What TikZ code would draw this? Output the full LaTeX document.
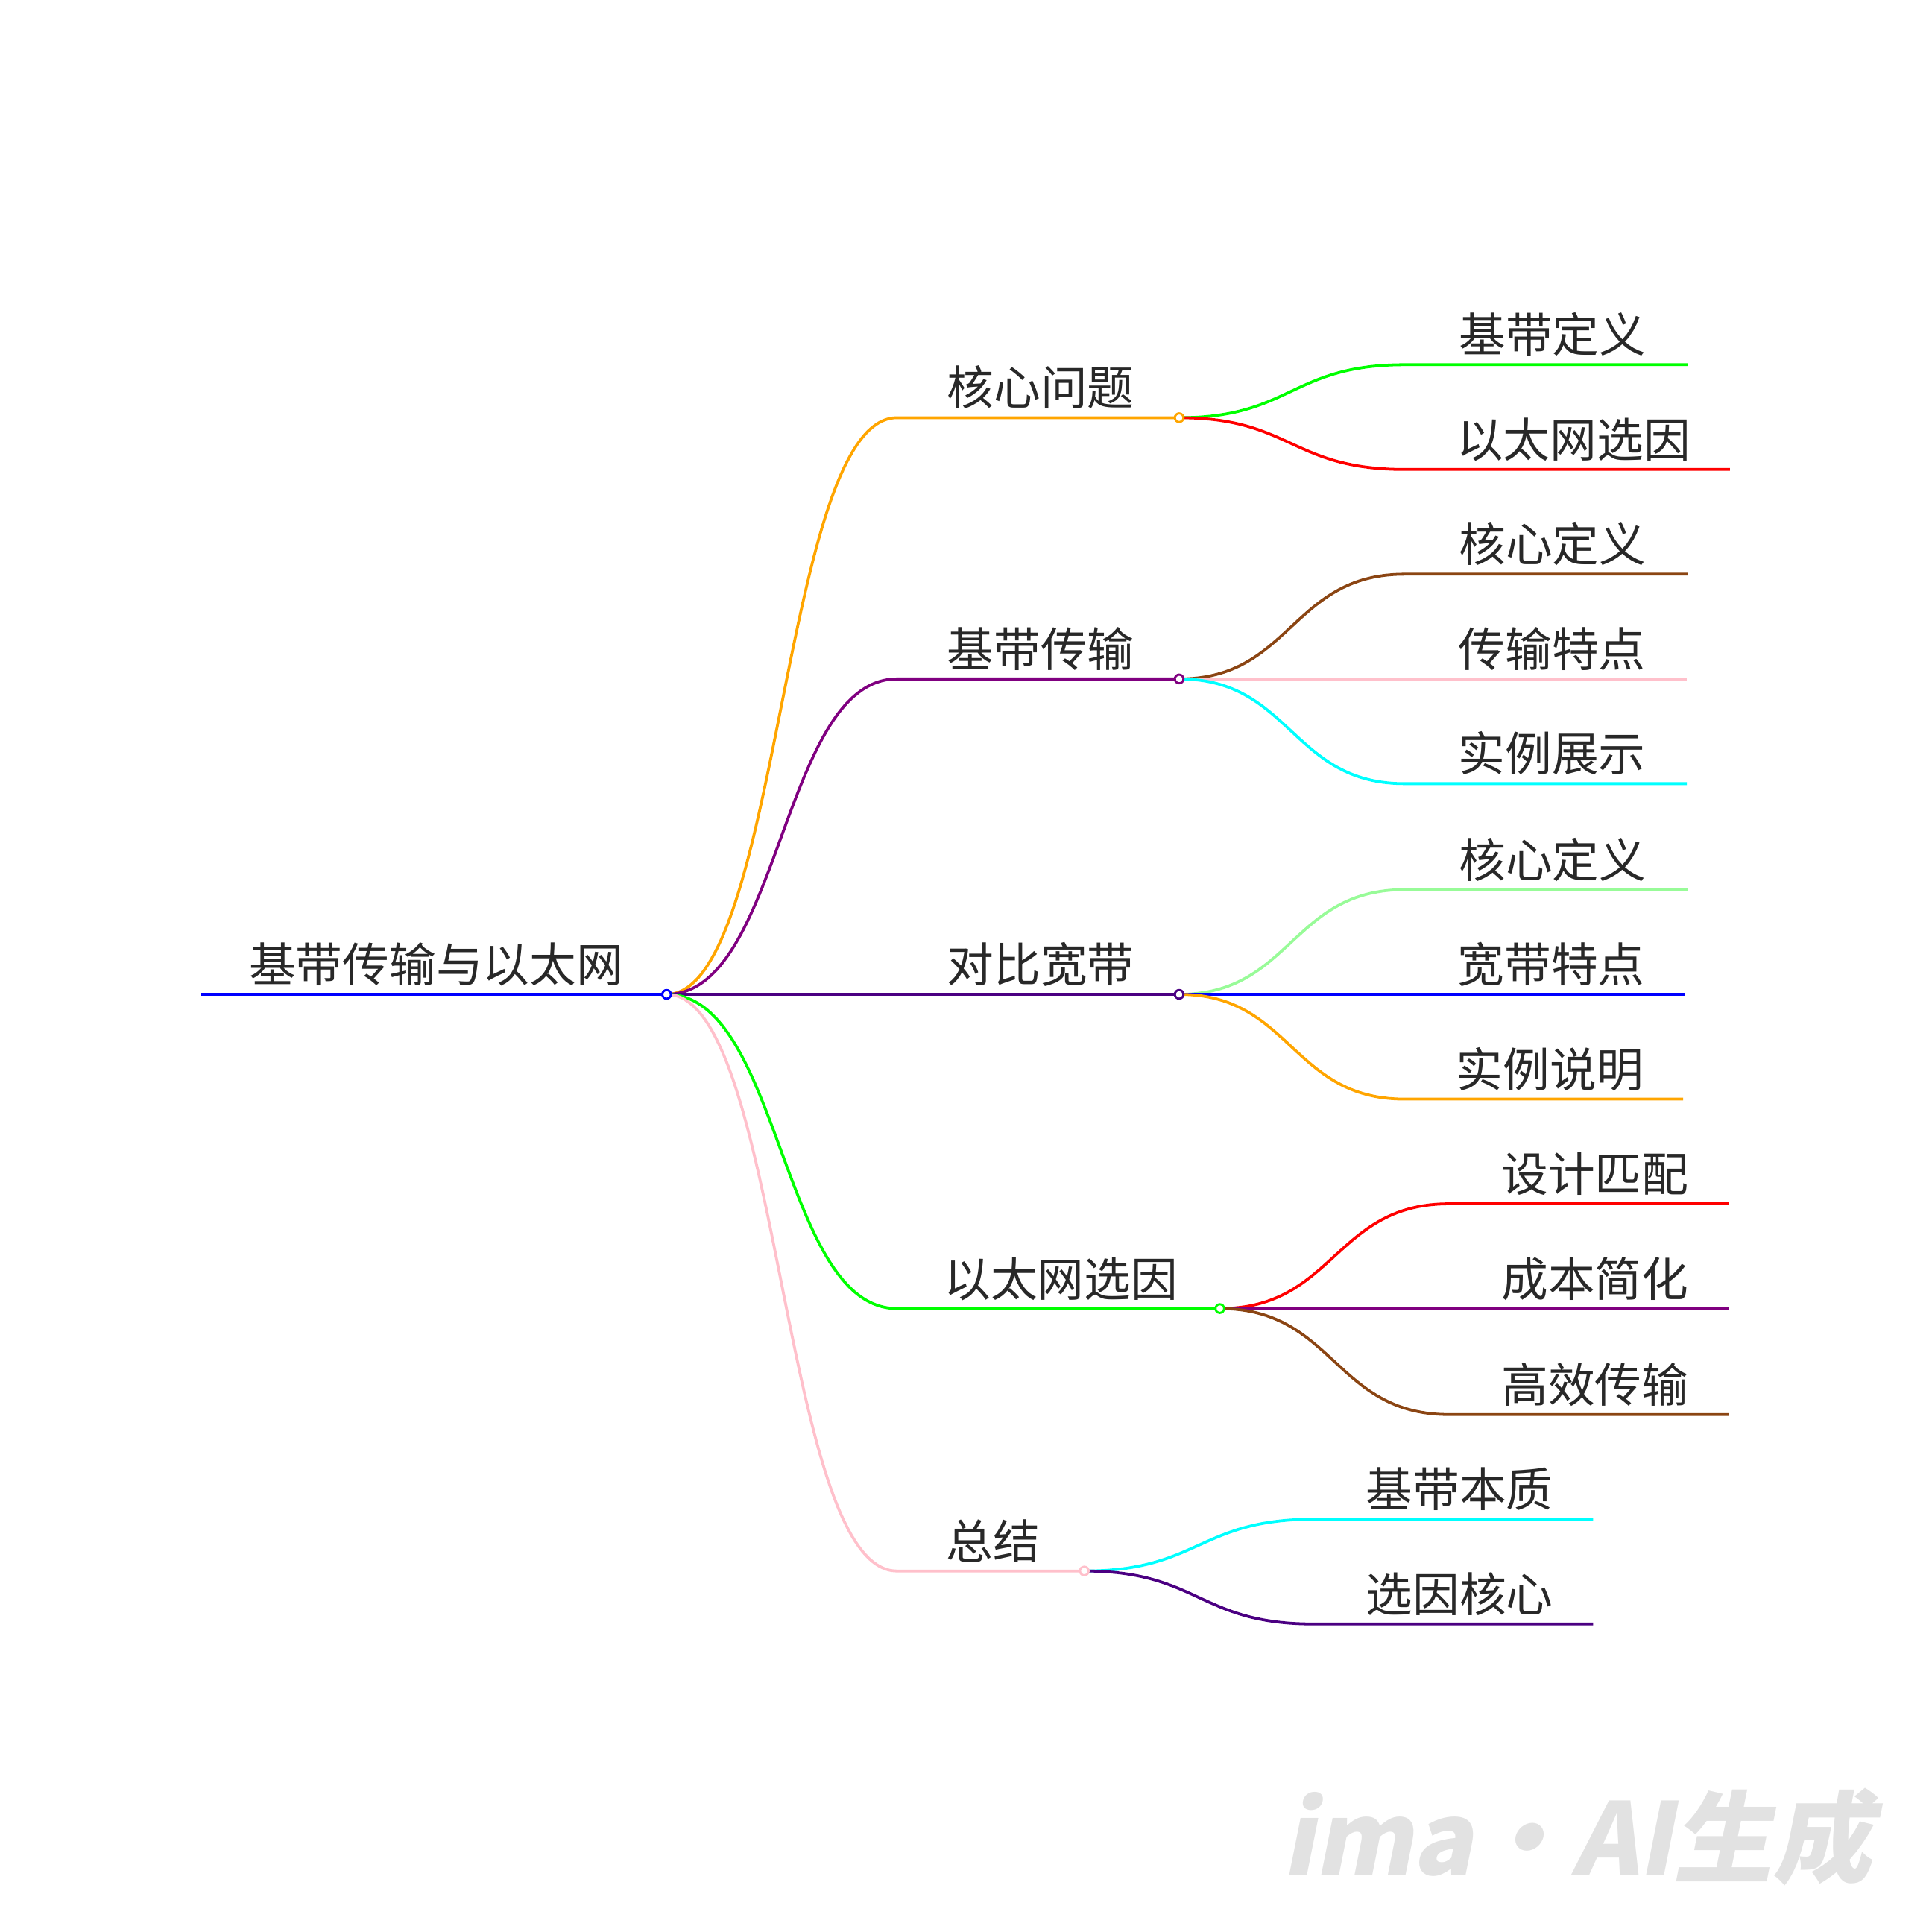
\documentclass[tikz,border=0pt]{standalone}
\usepackage{fontspec}
\setmainfont{Noto Sans CJK SC}
\newfontfamily\markfont[FakeSlant=0.2]{Noto Sans CJK SC}
\usetikzlibrary{calc}

\definecolor{inkgray}{RGB}{40,40,40}
\definecolor{markgray}{RGB}{226,226,226}
\definecolor{mmblue}{RGB}{0,0,255}
\definecolor{mmorange}{RGB}{255,165,0}
\definecolor{mmpurple}{RGB}{128,0,128}
\definecolor{mmindigo}{RGB}{75,0,130}
\definecolor{mmlime}{RGB}{0,255,0}
\definecolor{mmpink}{RGB}{255,192,203}
\definecolor{mmred}{RGB}{255,0,0}
\definecolor{mmbrown}{RGB}{139,69,19}
\definecolor{mmcyan}{RGB}{0,255,255}
\definecolor{mmpale}{RGB}{152,251,152}

\begin{document}
\begin{tikzpicture}[x=0.01cm,y=-0.01cm,
  topic/.style={anchor=base,inner sep=0pt,text=inkgray,font=\fontsize{10.8}{13}\selectfont},
  link/.style={line width=0.65pt},
  knob/.style={circle,draw,fill=white,inner sep=0pt,minimum size=0.07cm,line width=0.5pt}]

  \useasboundingbox (0,0) rectangle (1568,1568);

  % Root
  \coordinate (root-l) at (163,807);
  \coordinate (root) at (541,807);
  \draw[link,mmblue] (root-l) -- (root);
  \node[topic] (root-t) at ($(root-l)!0.5!(root)+(2,-10)$) {基带传输与以太网};

  % First level: name/y/end x/colour/text
  \foreach \nm/\yy/\ee/\col/\txt in {q/339/957/mmorange/核心问题,
      b/551/957/mmpurple/基带传输, w/807/957/mmindigo/对比宽带,
      e/1062/990/mmlime/以太网选因, s/1275/880/mmpink/总结}{
    \coordinate (\nm-l) at (728,\yy);
    \coordinate (\nm) at (\ee,\yy);
    \draw[link,\col] (root) .. controls (634,807) and (634,\yy) .. (\nm-l) -- (\nm);
    \node[topic] (\nm-t) at ($(\nm-l)!0.5!(\nm)+(2,-10)$) {\txt};
  }

  % Second level: parent/mid x/start x/y/end x/colour/text
  \foreach \up/\mm/\ss/\yy/\ee/\col/\txt in {
      q/1048/1140/296/1370/mmlime/基带定义, q/1048/1140/381/1404/mmred/以太网选因,
      b/1048/1140/466/1370/mmbrown/核心定义, b/1048/1140/551/1369/mmpink/传输特点,
      b/1048/1140/636/1369/mmcyan/实例展示,
      w/1048/1140/722/1370/mmpale/核心定义, w/1048/1140/807/1368/mmblue/宽带特点,
      w/1048/1140/892/1366/mmorange/实例说明,
      e/1083/1176/977/1403/mmred/设计匹配, e/1083/1176/1062/1403/mmpurple/成本简化,
      e/1083/1176/1148/1403/mmbrown/高效传输,
      s/973/1066/1233/1293/mmcyan/基带本质, s/973/1066/1318/1293/mmindigo/选因核心}{
    \coordinate (\up-\yy-l) at (\ss,\yy);
    \coordinate (\up-\yy) at (\ee,\yy);
    \draw[link,\col] (\up) .. controls ($(\mm,0)!(\up)!(\mm,1)$) and (\mm,\yy) .. (\up-\yy-l) -- (\up-\yy);
    \node[topic] (\up-\yy-t) at ($(\up-\yy-l)!0.5!(\up-\yy)+(5,-10)$) {\txt};
  }

  % Junction dots
  \node[knob,draw=mmblue] (root-k) at (root) {};
  \foreach \nm/\col in {q/mmorange, b/mmpurple, w/mmindigo, e/mmlime, s/mmpink}
    \node[knob,draw=\col] (\nm-k) at (\nm) {};

  % Watermark
  \node[anchor=base west,inner sep=0pt,text=markgray,font=\markfont\bfseries\fontsize{23}{27}\selectfont]
    (mark) at (1040,1522) {ima·AI生成};
\end{tikzpicture}
\end{document}
